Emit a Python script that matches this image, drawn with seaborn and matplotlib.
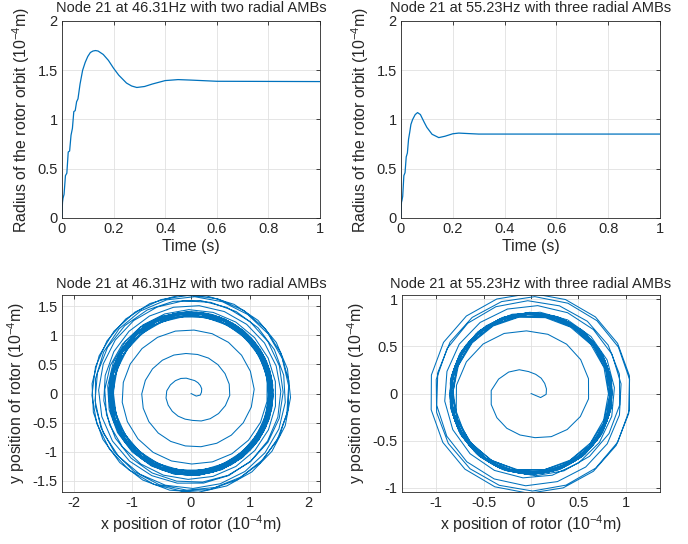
import numpy as np
import matplotlib
matplotlib.use("Agg")
from matplotlib import pyplot as plt
from matplotlib.ticker import FuncFormatter
import seaborn as sns

# ---- data (radius of the rotor orbit, 1e-4 m) ----
# case A: node 21 at 46.31 Hz, two radial AMBs
speed_a = 46.31
time_a = [0, 0.001, 0.002, 0.004, 0.008, 0.0134, 0.0188, 0.0242, 0.0296, 0.035,
          0.0404, 0.0458, 0.0512, 0.0566, 0.062, 0.07, 0.08, 0.09, 0.1, 0.11,
          0.12, 0.13, 0.14, 0.16, 0.18, 0.2, 0.22, 0.25, 0.27, 0.29,
          0.32, 0.35, 0.4, 0.45, 0.5, 0.6, 1.0]
radius_a = [0, 0.1, 0.16, 0.2, 0.24, 0.43, 0.455, 0.67, 0.68, 0.84,
            0.91, 1.08, 1.09, 1.18, 1.21, 1.36, 1.5, 1.58, 1.64, 1.68,
            1.695, 1.7, 1.695, 1.66, 1.6, 1.52, 1.45, 1.37, 1.34, 1.325,
            1.335, 1.36, 1.395, 1.405, 1.4, 1.388, 1.385]

# case B: node 21 at 55.23 Hz, three radial AMBs
speed_b = 55.23
time_b = [0, 0.001, 0.002, 0.004, 0.0067, 0.0112, 0.0157, 0.0203, 0.0248, 0.0293,
          0.0338, 0.0384, 0.045, 0.055, 0.064, 0.075, 0.09, 0.1, 0.12, 0.146,
          0.17, 0.2, 0.223, 0.26, 0.3, 0.4, 1.0]
radius_b = [0, 0.11, 0.16, 0.18, 0.22, 0.43, 0.46, 0.62, 0.66, 0.8,
            0.87, 0.95, 1.0, 1.05, 1.07, 1.05, 0.97, 0.92, 0.85, 0.816,
            0.83, 0.855, 0.862, 0.857, 0.852, 0.852, 0.852]

sample_rate = 1000   # Hz, solver output step
phase0 = -0.75       # rad, start direction of the whirl

titles = ["Node 21 at 46.31Hz with two radial AMBs",
          "Node 21 at 55.23Hz with three radial AMBs"]


def orbit(times, radii, speed):
    t = np.arange(0, 1 + 1e-9, 1 / sample_rate)
    r = np.interp(t, times, radii)
    ang = 2 * np.pi * speed * t + phase0
    return r * np.cos(ang), r * np.sin(ang)


sns.set_theme(style="whitegrid")
plt.rcParams.update({
    "font.family": ["Liberation Sans", "DejaVu Sans"],
    "mathtext.fontset": "custom",
    "mathtext.rm": "Liberation Sans",
    "mathtext.it": "Liberation Sans",
    "axes.unicode_minus": False,
    "axes.edgecolor": "#262626",
    "axes.linewidth": 0.6,
    "grid.color": "#e0e0e0",
    "grid.linewidth": 0.6,
    "text.color": "#262626",
    "axes.labelcolor": "#262626",
    "xtick.color": "#262626",
    "ytick.color": "#262626",
})

blue = "#0072BD"
fig = plt.figure(figsize=(6.88, 5.44), dpi=100)
pos = [[0.0901, 0.5993, 0.375, 0.3621], [0.5828, 0.5993, 0.3765, 0.3621],
       [0.0901, 0.0956, 0.375, 0.3621], [0.5843, 0.0956, 0.375, 0.3621]]
axes = [fig.add_axes(p) for p in pos]

fmt = FuncFormatter(lambda v, _: "%g" % round(v, 3))
ylab_r = r"Radius of the rotor orbit (10$^{-4}$m)"

for ax, tt, rr, ti in [(axes[0], time_a, radius_a, titles[0]),
                       (axes[1], time_b, radius_b, titles[1])]:
    sns.lineplot(x=tt, y=rr, ax=ax, color=blue, linewidth=0.9,
                 sort=False, estimator=None)
    ax.set_xlim(0, 1)
    ax.set_ylim(0, 2)
    ax.set_xticks(np.arange(0, 1.01, 0.2))
    ax.set_yticks(np.arange(0, 2.01, 0.5))
    ax.set_xlabel("Time (s)", fontsize=11.4, labelpad=2)
    ax.set_ylabel(ylab_r, fontsize=11.4, labelpad=4)
    ax.set_title(ti, fontsize=10.5, pad=6.5)

for ax, tt, rr, sp, ti, lim in [
        (axes[2], time_a, radius_a, speed_a, titles[0], (2.2, 1.69, 1.5)),
        (axes[3], time_b, radius_b, speed_b, titles[1], (1.36, 1.045, 1.0))]:
    x, y = orbit(tt, rr, sp)
    sns.lineplot(x=x, y=y, ax=ax, color=blue, linewidth=0.75,
                 sort=False, estimator=None)
    ax.set_xlim(-lim[0], lim[0])
    ax.set_ylim(-lim[1], lim[1])
    if lim[2] == 1.5:
        ax.set_xticks([-2, -1, 0, 1, 2])
        ax.set_yticks(np.arange(-1.5, 1.51, 0.5))
    else:
        ax.set_xticks(np.arange(-1, 1.01, 0.5))
        ax.set_yticks(np.arange(-1, 1.01, 0.5))
    ax.set_xlabel(r"x position of rotor (10$^{-4}$m)", fontsize=11.4, labelpad=2)
    ax.set_ylabel(r"y position of rotor (10$^{-4}$m)", fontsize=11.4, labelpad=4)
    ax.set_title(ti, fontsize=10.5, pad=5)

for ax in axes:
    ax.xaxis.set_major_formatter(fmt)
    ax.yaxis.set_major_formatter(fmt)
    ax.tick_params(direction="in", length=3, width=0.6, labelsize=10.5,
                   top=True, right=True, pad=3)
    ax.grid(True)
    for s in ax.spines.values():
        s.set_visible(True)
        s.set_color("#262626")
        s.set_linewidth(0.6)

fig.savefig("out.png", dpi=100)
